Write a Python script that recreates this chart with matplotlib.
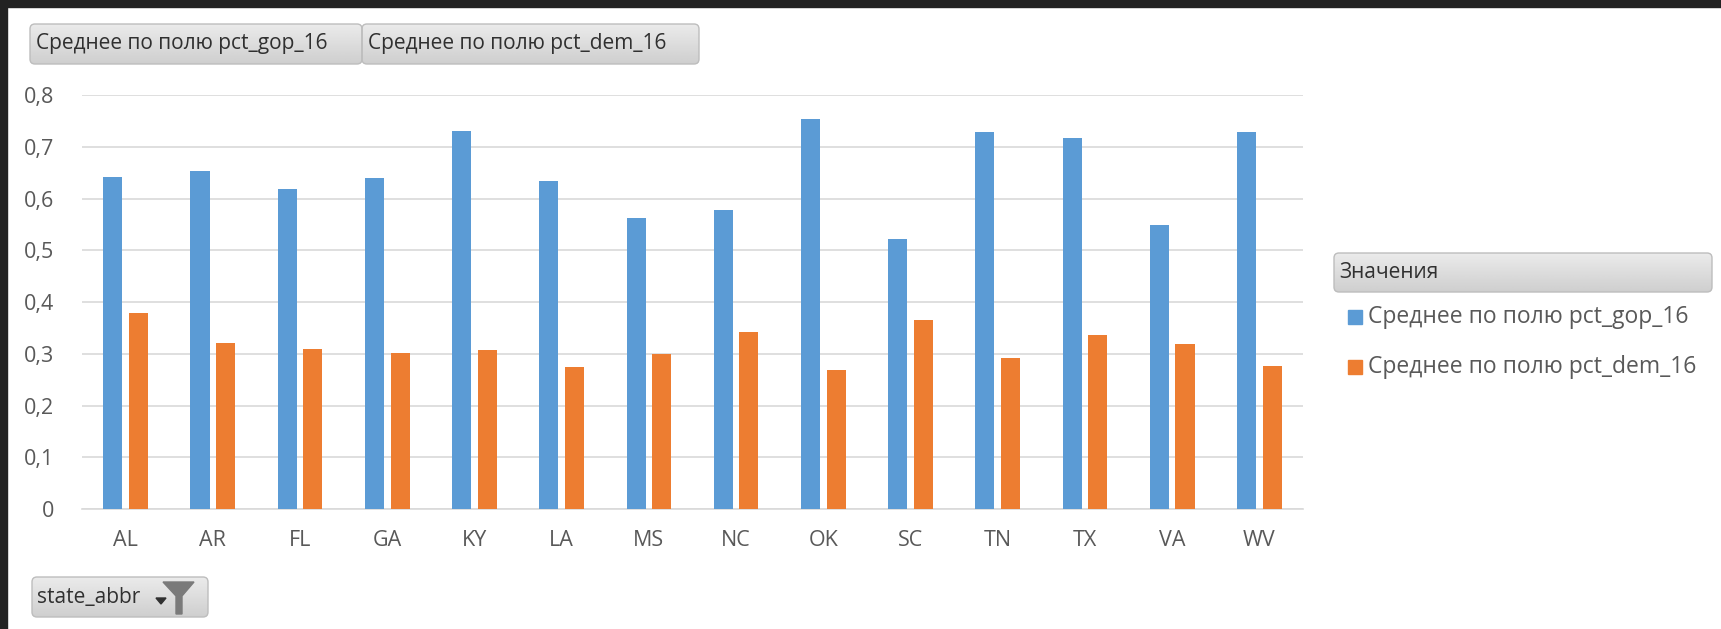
import numpy as np
import matplotlib
matplotlib.use("Agg")
import matplotlib.pyplot as plt
from matplotlib.patches import FancyBboxPatch, Rectangle, Polygon

plt.rcParams['font.family'] = ['Open Sans', 'DejaVu Sans']

states = ["AL", "AR", "FL", "GA", "KY", "LA", "MS", "NC", "OK", "SC", "TN", "TX", "VA", "WV"]
pct_gop_16 = [0.642, 0.653, 0.618, 0.639, 0.731, 0.634, 0.562, 0.578, 0.753, 0.522, 0.728, 0.717, 0.549, 0.728]
pct_dem_16 = [0.379, 0.320, 0.310, 0.301, 0.307, 0.275, 0.300, 0.342, 0.269, 0.366, 0.291, 0.336, 0.318, 0.277]
yticks = [0, 0.1, 0.2, 0.3, 0.4, 0.5, 0.6, 0.7, 0.8]
series_names = ["Среднее по полю pct_gop_16", "Среднее по полю pct_dem_16"]
legend_title = "Значения"
filter_field = "state_abbr"

BLUE = "#5B9BD5"
ORANGE = "#ED7D31"
GRID = "#D9D9D9"
TXT = "#595959"

W, H = 1721, 629
fig = plt.figure(figsize=(W / 100, H / 100), dpi=100)
fig.patch.set_facecolor("white")

# main chart
ax = fig.add_axes([82 / W, 1 - 509 / H, (1303 - 82) / W, (509 - 95) / H])
x = np.arange(len(states))
bw = 0.218
ax.bar(x - 0.147, pct_gop_16, width=bw, color=BLUE, zorder=3)
ax.bar(x + 0.147, pct_dem_16, width=bw, color=ORANGE, zorder=3)
ax.set_xlim(-0.5, len(states) - 0.5)
ax.set_ylim(0, 0.8)
ax.set_yticks(yticks)
ax.set_yticklabels([("%g" % v).replace(".", ",") for v in yticks])
ax.set_xticks(x)
ax.set_xticklabels(states)
ax.yaxis.grid(True, color=GRID, linewidth=1.2, zorder=0)
for s in ["top", "right", "left"]:
    ax.spines[s].set_visible(False)
ax.spines["bottom"].set_color(GRID)
ax.spines["bottom"].set_linewidth(1.2)
ax.tick_params(axis="both", length=0, labelcolor=TXT)
ax.tick_params(axis="y", pad=20, labelsize=15.5)
ax.tick_params(axis="x", pad=15, labelsize=15.5)

# overlay in pixel coords for the pivot buttons and legend
ov = fig.add_axes([0, 0, 1, 1], zorder=5)
ov.set_xlim(0, W)
ov.set_ylim(H, 0)
ov.axis("off")
ov.patch.set_alpha(0)

grad = np.linspace(0.92, 0.81, 64).reshape(-1, 1)


def button(x0, y0, x1, y1, label=None, fs=15, tx=6):
    p = FancyBboxPatch((x0, y0), x1 - x0, y1 - y0, boxstyle="round,pad=0,rounding_size=5",
                       facecolor="none", edgecolor="#BDBDBD", linewidth=1.0, zorder=2)
    ov.add_patch(p)
    im = ov.imshow(grad, cmap="gray", vmin=0, vmax=1, extent=(x0, x1, y1, y0),
                   aspect="auto", zorder=1, interpolation="bilinear")
    im.set_clip_path(p)
    if label:
        ov.text(x0 + tx, (y0 + y1) / 2, label, fontsize=fs, color="#303030",
                va="center", ha="left", zorder=3)


# dark frame
ov.add_patch(Rectangle((0, 0), W, 7, color="#222222", zorder=0))
ov.add_patch(Rectangle((0, 0), 7, H, color="#222222", zorder=0))

button(30, 24, 362, 64, series_names[0])
button(362, 24, 699, 64, series_names[1])
button(32, 577, 208, 617, filter_field, tx=5)
ov.add_patch(Polygon([[156, 598], [166, 598], [161, 604]], color="#303030", zorder=4))
ov.add_patch(Polygon([[163, 582], [194, 582], [182, 596], [182, 614], [176, 614], [176, 596]],
                     color="#7A7A7A", zorder=4))

# legend
button(1334, 253, 1712, 292, legend_title, fs=15, tx=5)
for i, (name, c) in enumerate(zip(series_names, [BLUE, ORANGE])):
    yc = 317 + i * 50
    ov.add_patch(Rectangle((1348, yc - 7), 14, 14, color=c, zorder=3))
    ov.text(1368, yc, name, fontsize=16.5, color=TXT, va="center", ha="left")

fig.savefig("out.png", dpi=100)
